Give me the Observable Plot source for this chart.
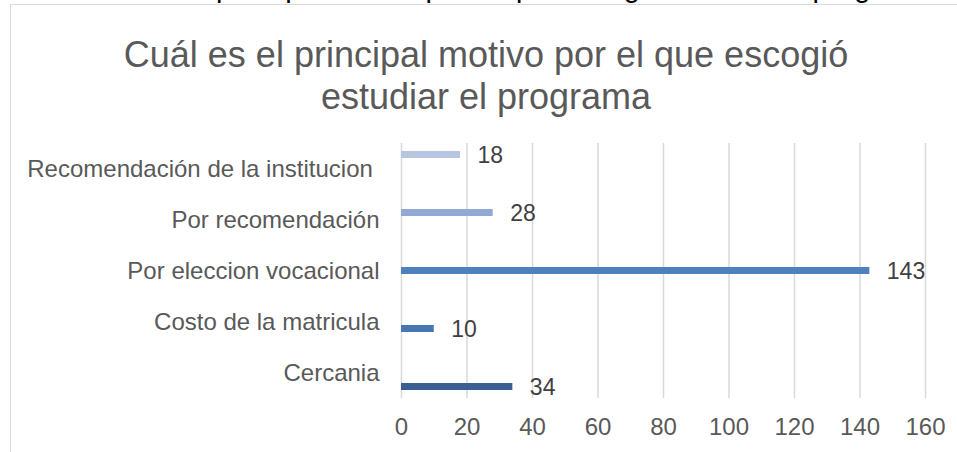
<!DOCTYPE html>
<html>
<head>
<meta charset="utf-8">
<script src="https://cdn.jsdelivr.net/npm/d3@7"></script>
<script src="https://cdn.jsdelivr.net/npm/@observablehq/plot@0.6"></script>
<style>
  html, body { margin: 0; padding: 0; background: #fff; }
  #wrap { position: relative; width: 957px; height: 452px; overflow: hidden; font-family: "Liberation Sans", Arial, sans-serif; }
  #frame { position: absolute; left: 10px; top: 4px; width: 2000px; height: 2000px; border: 1px solid #d9d9d9; box-sizing: border-box; }
  #cut { position: absolute; left: 79px; top: -27.5px; font-size: 29px; line-height: 29px; color: #000; white-space: nowrap; }
  #title { position: absolute; left: 0; width: 972px; top: 34px; text-align: center; font-size: 36px; line-height: 42px; color: #595959; }
  #chart { position: absolute; left: 0; top: 130px; }
  #chart svg text { white-space: pre; }
</style>
</head>
<body>
<div id="wrap">
  <div id="cut">Cuál es el principal motivo por el que escogió estudiar el programa</div>
  <div id="frame"></div>
  <div id="title">Cuál es el principal motivo por el que escogió<br>estudiar el programa</div>
  <div id="chart"></div>
</div>
<script>
const categories = [
  "Recomendación de la institucion ",
  "Por recomendación",
  "Por eleccion vocacional",
  "Costo de la matricula",
  "Cercania"
];
const values = [18, 28, 143, 10, 34];
const colors = ["#b7c5e1", "#91a9d4", "#4e80bd", "#4776b2", "#3a5f92"];
const xTicks = [0, 20, 40, 60, 80, 100, 120, 140, 160];

const data = categories.map((c, i) => ({category: c, series: c, value: values[i]}));

const chart = Plot.plot({
  width: 957,
  height: 313,
  marginLeft: 401,
  marginRight: 32,
  marginTop: 13,
  marginBottom: 45,
  style: {fontFamily: "'Liberation Sans', Arial, sans-serif", fontSize: "24px", color: "#595959", background: "transparent"},
  x: {domain: [0, 160], ticks: xTicks, grid: false, label: null},
  y: {domain: categories, axis: null, paddingInner: 0, paddingOuter: 0.9},
  fy: {domain: categories, padding: 0, label: null},
  color: {domain: categories, range: colors},
  marks: [
    Plot.gridX(xTicks, {stroke: "#d9d9d9", strokeOpacity: 1, strokeWidth: 1.5}),
    Plot.barX(data, {x: "value", y: "series", fy: "category", fill: "series"}),
    Plot.text(data, {x: "value", y: "series", fy: "category", text: d => String(d.value), textAnchor: "start", dx: 17, dy: 1, fill: "#404040", fontSize: 23}),
    Plot.axisX(xTicks, {anchor: "bottom", tickSize: 0, tickPadding: 19, fontSize: 24, fill: "#595959", label: null, tickFormat: d => String(d)}),
    Plot.axisFy({anchor: "left", tickSize: 0, tickPadding: 22, fontSize: 24, fill: "#595959", label: null})
  ]
});
document.getElementById("chart").appendChild(chart);
</script>
</body>
</html>
